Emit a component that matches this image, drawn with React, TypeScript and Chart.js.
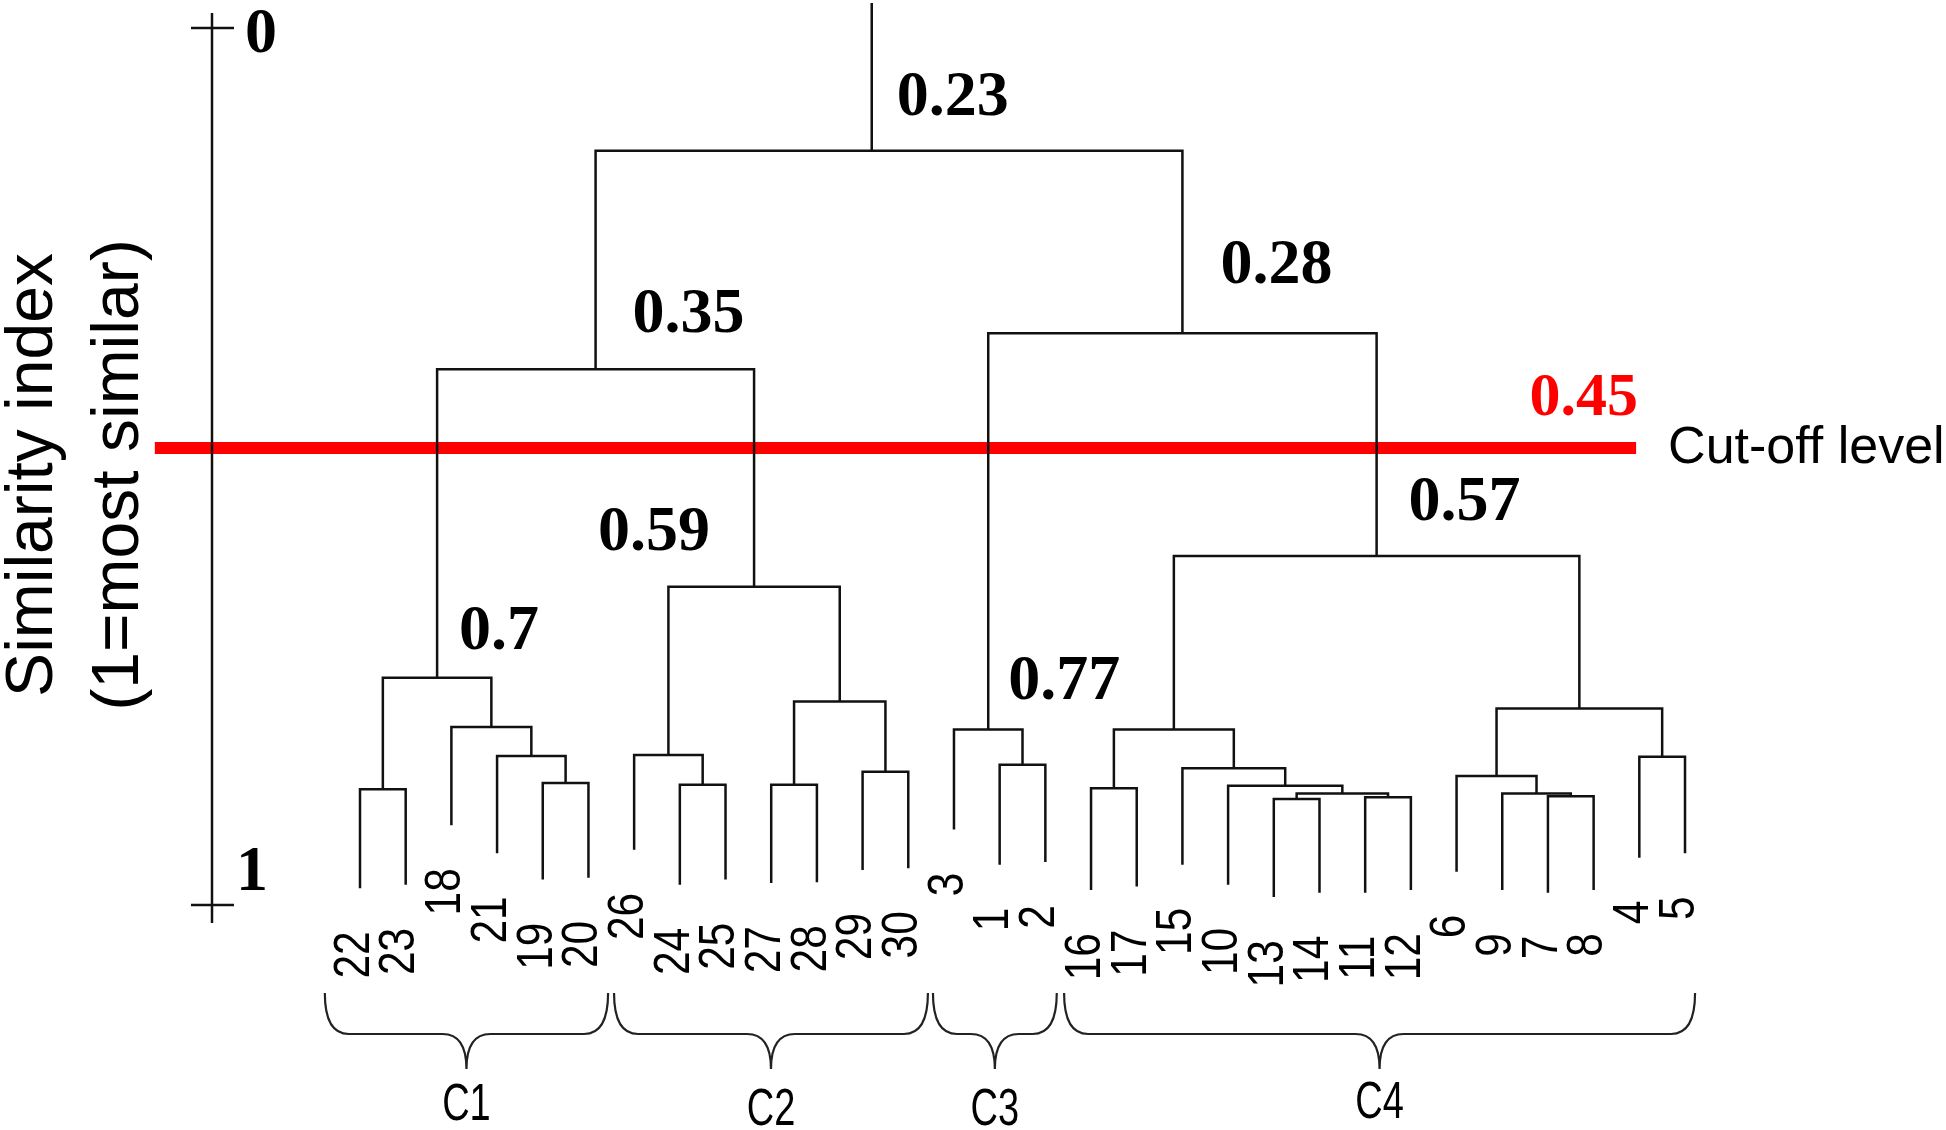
import React, { useEffect, useRef } from 'react';
import { Chart, registerables } from 'chart.js';

Chart.register(...registerables);

// ---------------- DATA ----------------
// leaves in plotted order (left to right)
const leafLabels = ['22', '23', '18', '21', '19', '20', '26', '24', '25', '27', '28', '29', '30', '3', '1', '2', '16', '17', '15', '10', '13', '14', '11', '12', '6', '9', '7', '8', '4', '5'];
// where each leaf's line ends (axis units, 0 = top, 1 = bottom)
const leafEnds = [0.981, 0.977, 0.909, 0.941, 0.971, 0.969, 0.937, 0.977, 0.971, 0.975, 0.974, 0.96, 0.958, 0.914, 0.954, 0.951, 0.983, 0.979, 0.954, 0.977, 0.991, 0.986, 0.986, 0.983, 0.962, 0.983, 0.986, 0.983, 0.946, 0.941];
// merges (R hclust convention: negative = leaf position (1-based), positive = earlier merge (1-based))
const mergeLeft = [-21, -23, 1, -20, -19, -17, 6, -27, -26, -25, -29, 10, 7, -15, -14, 15, -1, -5, -4, -3, 17, -8, -7, -10, -12, 24, 23, 21, 28];
const mergeRight = [-22, -24, 2, 3, 4, -18, 5, -28, 8, 9, -30, 11, 12, -16, 14, 13, -2, -6, 18, 19, 20, -9, 22, -11, -13, 25, 26, 27, 16];
const mergeHeights = [0.879, 0.877, 0.873, 0.864, 0.844, 0.867, 0.8, 0.876, 0.873, 0.853, 0.831, 0.776, 0.602, 0.84, 0.8, 0.348, 0.868, 0.861, 0.83, 0.797, 0.741, 0.863, 0.829, 0.863, 0.848, 0.768, 0.637, 0.389, 0.14];
const mergeLabels = ['', '', '', '', '', '', '', '', '', '', '', '', '0.57', '', '0.77', '0.28', '', '', '', '', '0.7', '', '', '', '', '', '0.59', '0.35', '0.23'];
const rootStemX = 11.2;
const rootStemTop = -0.0285;

const cutoffValue = 0.479;
const cutoffLabel = '0.45';
const cutoffText = 'Cut-off level';
const cutoffFrom = -4.49;
const cutoffTo = 27.93;

const clusterNames = ['C1', 'C2', 'C3', 'C4'];
const braceStart = [-0.77, 5.56, 12.54, 15.41];
const braceEnd = [5.43, 12.43, 15.25, 29.22];

const axisTicks = [0, 1];
const axisTickLabels = ['0', '1'];
const axisTitle = ['Similarity index', '(1=most similar)'];

// ---------------- LAYOUT / STYLE ----------------
const W = 1946;
const H = 1130;
const LEAF0_PX = 360;
const LEAF_STEP = 45.69;
const Y0_PX = 28;
const Y1_PX = 905;
const AXIS_PX = 212;
const X_MIN = -LEAF0_PX / LEAF_STEP;
const X_MAX = X_MIN + W / LEAF_STEP;
const Y_MIN = -Y0_PX / (Y1_PX - Y0_PX);
const Y_MAX = Y_MIN + H / (Y1_PX - Y0_PX);

const SERIF = "'Liberation Serif','Times New Roman',serif";
const SANS = "'Liberation Sans',Arial,sans-serif";
const LINE = '#111';

// label offsets (px) relative to the node (stem x, merge y)
const mergeLabelOffsets: Record<number, [number, number]> = {
  28: [25, -36],
  15: [38, -50],
  27: [37, -37],
  12: [32, -36],
  26: [-156, -37],
  20: [22, -29],
  14: [20, -31],
};
const clusterLabelDy = [215, 220, 220, 213];

function buildTree() {
  const nodeX: number[] = [];
  const segs: { x: number; y: number }[][] = [];
  const child = (c: number) =>
    c < 0 ? { x: -c - 1, y: leafEnds[-c - 1] } : { x: nodeX[c - 1], y: mergeHeights[c - 1] };
  for (let k = 0; k < mergeHeights.length; k++) {
    const l = child(mergeLeft[k]);
    const r = child(mergeRight[k]);
    const h = mergeHeights[k];
    nodeX[k] = (l.x + r.x) / 2;
    segs.push([
      { x: l.x, y: l.y },
      { x: l.x, y: h },
      { x: r.x, y: h },
      { x: r.x, y: r.y },
    ]);
  }
  const last = mergeHeights.length - 1;
  nodeX[last] = rootStemX;
  segs.push([
    { x: rootStemX, y: mergeHeights[last] },
    { x: rootStemX, y: rootStemTop },
  ]);
  return { nodeX, segs };
}

const decorPlugin = {
  id: 'dendroDecor',
  afterDatasetsDraw(chart: any) {
    const ctx: CanvasRenderingContext2D = chart.ctx;
    const xs = chart.scales.x;
    const ys = chart.scales.y;
    const px = (v: number) => xs.getPixelForValue(v);
    const py = (v: number) => ys.getPixelForValue(v);
    const { nodeX } = buildTree();

    ctx.save();
    // y axis with crossing ticks
    ctx.strokeStyle = LINE;
    ctx.lineWidth = 2.5;
    ctx.beginPath();
    ctx.moveTo(AXIS_PX, py(0) - 15);
    ctx.lineTo(AXIS_PX, py(1) + 18);
    axisTicks.forEach((t) => {
      ctx.moveTo(AXIS_PX - 21, py(t));
      ctx.lineTo(AXIS_PX + 22, py(t));
    });
    ctx.stroke();

    ctx.fillStyle = '#000';
    ctx.font = `bold 64px ${SERIF}`;
    ctx.textAlign = 'left';
    ctx.textBaseline = 'alphabetic';
    ctx.fillText(axisTickLabels[0], AXIS_PX + 33, py(axisTicks[0]) + 24);
    ctx.fillText(axisTickLabels[1], AXIS_PX + 24, py(axisTicks[1]) - 15);

    // axis title (rotated)
    ctx.font = `66px ${SANS}`;
    ctx.textAlign = 'center';
    const titleX = [52, 138];
    axisTitle.forEach((t, i) => {
      ctx.save();
      ctx.translate(titleX[i], 475);
      ctx.rotate(-Math.PI / 2);
      ctx.fillText(t, 0, 0);
      ctx.restore();
    });

    // merge labels
    ctx.font = `bold 64px ${SERIF}`;
    ctx.textAlign = 'left';
    mergeLabels.forEach((lab, k) => {
      if (!lab) return;
      const off = mergeLabelOffsets[k] || [20, -30];
      ctx.fillText(lab, px(nodeX[k]) + off[0], py(mergeHeights[k]) + off[1]);
    });

    // cut-off labels
    ctx.fillStyle = '#ff0000';
    ctx.font = `bold 62px ${SERIF}`;
    ctx.textAlign = 'right';
    ctx.fillText(cutoffLabel, px(cutoffTo) + 2, py(cutoffValue) - 33);
    ctx.fillStyle = '#000';
    ctx.font = `52px ${SANS}`;
    ctx.textAlign = 'left';
    ctx.fillText(cutoffText, px(cutoffTo) + 32, py(cutoffValue) + 15);

    // leaf labels (rotated, reading bottom to top)
    ctx.font = `50px ${SANS}`;
    ctx.textAlign = 'right';
    ctx.textBaseline = 'middle';
    leafLabels.forEach((lab, i) => {
      ctx.save();
      ctx.translate(px(i) - 5, py(leafEnds[i]) + 43);
      ctx.rotate(-Math.PI / 2);
      ctx.scale(0.85, 1);
      ctx.fillText(lab, 0, 0);
      ctx.restore();
    });

    // braces + cluster names
    const base = py(1);
    const yTop = base + 88;
    const yMid = base + 129;
    const yTip = base + 164;
    const r = 24;
    ctx.strokeStyle = '#222';
    ctx.lineWidth = 2.2;
    ctx.textBaseline = 'alphabetic';
    ctx.textAlign = 'center';
    ctx.font = `52px ${SANS}`;
    clusterNames.forEach((name, c) => {
      const xl = px(braceStart[c]);
      const xr = px(braceEnd[c]);
      const xm = (xl + xr) / 2;
      ctx.beginPath();
      ctx.moveTo(xl, yTop);
      ctx.quadraticCurveTo(xl, yMid, xl + r, yMid);
      ctx.lineTo(xm - r, yMid);
      ctx.quadraticCurveTo(xm, yMid, xm, yTip);
      ctx.moveTo(xm, yTip);
      ctx.quadraticCurveTo(xm, yMid, xm + r, yMid);
      ctx.lineTo(xr - r, yMid);
      ctx.quadraticCurveTo(xr, yMid, xr, yTop);
      ctx.stroke();

      ctx.save();
      ctx.translate(xm, base + clusterLabelDy[c]);
      ctx.scale(0.73, 1);
      ctx.fillText(name, 0, 0);
      ctx.restore();
    });

    ctx.restore();
  },
};

export default function App() {
  const canvasRef = useRef<HTMLCanvasElement | null>(null);

  useEffect(() => {
    if (!canvasRef.current) return;
    const { segs } = buildTree();
    const datasets: any[] = segs.map((s) => ({
      data: s,
      showLine: true,
      borderColor: LINE,
      borderWidth: 2.5,
      pointRadius: 0,
      pointHoverRadius: 0,
      fill: false,
      tension: 0,
      borderJoinStyle: 'miter',
      borderCapStyle: 'butt',
      order: 0,
    }));
    datasets.push({
      data: [
        { x: cutoffFrom, y: cutoffValue },
        { x: cutoffTo, y: cutoffValue },
      ],
      showLine: true,
      borderColor: '#ff0000',
      borderWidth: 12,
      pointRadius: 0,
      fill: false,
      borderCapStyle: 'butt',
      order: 1,
    });

    const chart = new Chart(canvasRef.current, {
      type: 'scatter',
      data: { datasets },
      options: {
        responsive: false,
        devicePixelRatio: 1,
        animation: false,
        events: [],
        layout: { padding: 0 },
        plugins: { legend: { display: false }, tooltip: { enabled: false } },
        scales: {
          x: { type: 'linear', display: false, min: X_MIN, max: X_MAX },
          y: { type: 'linear', display: false, reverse: true, min: Y_MIN, max: Y_MAX },
        },
      },
      plugins: [decorPlugin],
    } as any);
    return () => chart.destroy();
  }, []);

  return (
    <div style={{ position: 'absolute', left: 0, top: 0, width: W, height: H, background: '#fff' }}>
      <canvas ref={canvasRef} width={W} height={H} style={{ display: 'block' }} />
    </div>
  );
}
